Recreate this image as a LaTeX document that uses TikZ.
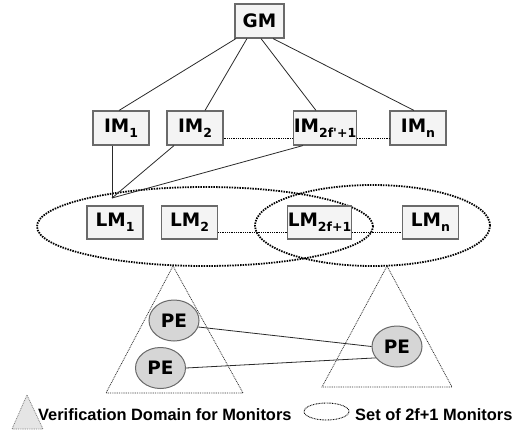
\documentclass[tikz,border=0pt]{standalone}
\usepackage{fontspec}
\setmainfont{Liberation Sans}
\newfontfamily\boxfont{DejaVu Sans}
\usetikzlibrary{shapes.geometric}
\newcommand{\subs}[1]{\raisebox{-5pt}{\fontsize{12.5}{12.5}\selectfont #1}}
\definecolor{boxfill}{HTML}{F4F4F4}
\definecolor{boxline}{HTML}{6A6A6A}
\definecolor{pefill}{HTML}{D6D6D6}
\definecolor{conn}{HTML}{2A2A2A}
\begin{document}
\begin{tikzpicture}[x=1pt,y=-1pt,
  mbox/.style={draw=boxline, fill=boxfill, line width=1.1pt, minimum width=56pt, minimum height=34pt, inner sep=0pt,
    font=\boxfont\bfseries\fontsize{18.5}{20}\selectfont},
  pe/.style={ellipse, draw=boxline, fill=pefill, line width=1pt, minimum width=50pt, minimum height=41pt, inner sep=0pt,
    font=\boxfont\bfseries\fontsize{18.5}{20}\selectfont},
  conline/.style={draw=conn, line width=0.8pt},
  dotline/.style={draw=black, line width=0.8pt, dash pattern=on 0.9pt off 0.9pt},
  setell/.style={ellipse, draw=black, line width=1.8pt, dash pattern=on 1.5pt off 1.1pt, inner sep=0pt},
  domtri/.style={draw=black!80, line width=0.8pt, dash pattern=on 0.9pt off 0.9pt},
  legtext/.style={font=\bfseries\fontsize{16.4}{18}\selectfont, inner sep=0pt, anchor=base west}
]
\useasboundingbox (0,0) rectangle (514,434);

% verification domains
\draw[domtri] (173,266) -- (106,393) -- (243,393) -- cycle;
\draw[domtri] (387,266) -- (322,387) -- (452,387) -- cycle;

% sets of 2f+1 monitors
\node[setell, minimum width=336pt, minimum height=79pt] (set1) at (205,226.5) {};
\node[setell, minimum width=235pt, minimum height=81pt] (set2) at (372.5,225.5) {};

% boxes
\node[mbox, minimum width=49pt] (GM) at (259.5,21) {GM};
\node[mbox] (IM1) at (121,128) {IM\subs{1}};
\node[mbox] (IM2) at (195,128) {IM\subs{2}};
\node[mbox] (IM2f) at (325,128) {IM\subs{2f'+1}};
\node[mbox] (IMn) at (418,128) {IM\subs{n}};
\node[mbox, minimum height=33pt] (LM1) at (115,222.5) {LM\subs{1}};
\node[mbox, minimum height=33pt] (LM2) at (189.5,222.5) {LM\subs{2}};
\node[mbox, minimum height=33pt] (LM2f) at (319.5,222.5) {LM\subs{2f+1}};
\node[mbox, minimum height=33pt] (LMn) at (430.5,222.5) {LM\subs{n}};

% GM to IMs
\draw[conline] ([xshift=-23.5pt]GM.south) -- ([xshift=-2pt]IM1.north);
\draw[conline] ([xshift=-12.5pt]GM.south) -- ([xshift=10pt]IM2.north);
\draw[conline] ([xshift=1.5pt]GM.south) -- ([xshift=-9pt]IM2f.north);
\draw[conline] ([xshift=13.5pt]GM.south) -- ([xshift=-4pt]IMn.north);

% IMs to LM1 junction
\coordinate (J) at (112,198);
\draw[conline] (J |- IM1.south) -- (J);
\draw[conline] ([xshift=-21pt]IM2.south) -- (J);
\draw[conline] ([xshift=-22pt]IM2f.south) -- (J);

% dotted chains
\draw[dotline] ([yshift=-10pt]IM2.east) -- ([yshift=-10pt]IM2f.west);
\draw[dotline] ([yshift=-10pt]IM2f.east) -- ([yshift=-10pt]IMn.west);
\draw[dotline] ([yshift=-9.5pt]LM2.east) -- ([yshift=-9.5pt]LM2f.west);
\draw[dotline] ([yshift=-9.5pt]LM2f.east) -- ([yshift=-9.5pt]LMn.west);

% PEs
\node[pe] (PE1) at (174,320.5) {PE};
\node[pe] (PE2) at (160.5,368) {PE};
\node[pe] (PE3) at (397,346.5) {PE};
\draw[conline] (PE1.-15) -- (PE3.west);
\draw[conline] (PE2.east) -- (PE3.208);

% legend
\draw[domtri, draw=gray, fill=black!10] (27,395) -- (12,429) -- (43,429) -- cycle;
\node[legtext] (leg1) at (38,420) {Verification Domain for Monitors};
\node[ellipse, draw=black, line width=0.9pt, dash pattern=on 0.8pt off 0.8pt, minimum width=45pt, minimum height=17pt, inner sep=0pt] (legell) at (326.5,411.5) {};
\node[legtext] (leg2) at (355,420) {Set of 2f+1 Monitors};
\end{tikzpicture}
\end{document}
